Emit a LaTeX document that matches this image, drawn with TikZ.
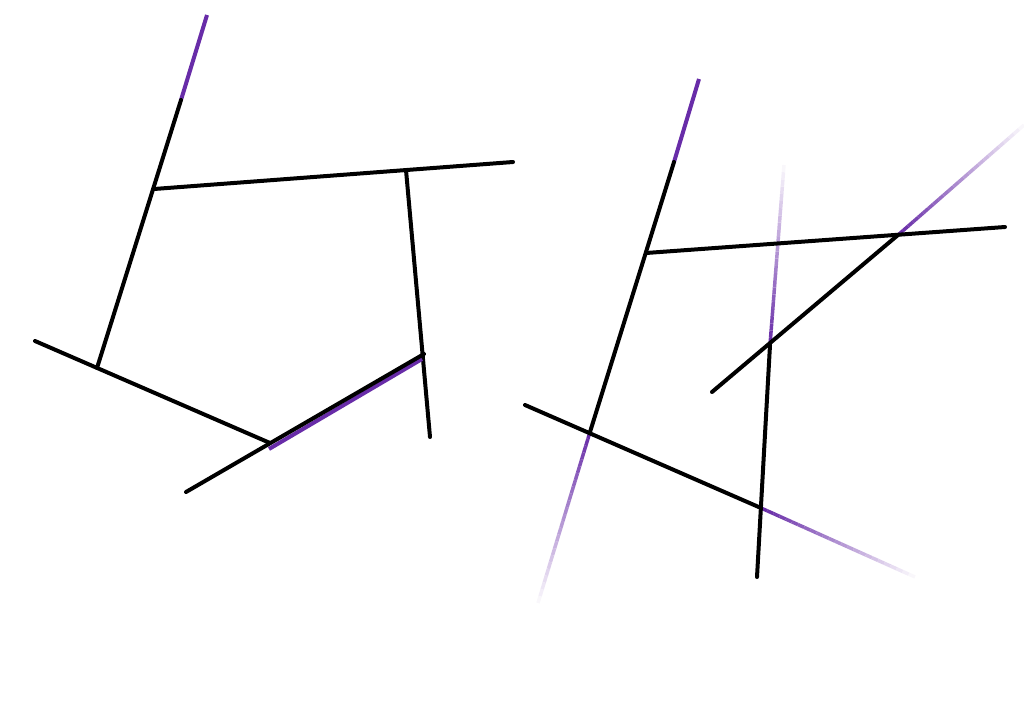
\documentclass[tikz,border=0pt]{standalone}
\usetikzlibrary{calc}
\definecolor{purp}{RGB}{104,44,168}
\tikzset{
  blk/.style={black, line width=4pt, line cap=round},
  pur/.style={purp, line width=4pt, line cap=butt},
}
\newcommand\fadeseg[2]{%
  \foreach \i in {0,...,24}{%
    \pgfmathtruncatemacro\pc{100-\i*4}%
    \pgfmathsetmacro\ta{\i/25}%
    \pgfmathsetmacro\tb{(\i+1)/25}%
    \draw[purp!\pc!white, line width=3.5pt, line cap=butt] ($(#1)!\ta!(#2)$) -- ($(#1)!\tb!(#2)$);
  }%
}
\begin{document}
\begin{tikzpicture}[x=1pt,y=-1pt]
\useasboundingbox (0,0) rectangle (1024,709);
% ---------- left figure ----------
\coordinate (a1) at (207,15);
\coordinate (a2) at (181,100);
\coordinate (a3) at (97,368);
\coordinate (t1) at (154,189);
\coordinate (t2) at (513,162);
\coordinate (v1) at (406,170);
\coordinate (v2) at (430,437);
\coordinate (b1) at (35,341);
\coordinate (b2) at (270,443);
\coordinate (c1) at (186,492);
\coordinate (c2) at (424,354);
\coordinate (p1) at (269,449);
\coordinate (p2) at (422,359);
\draw[pur] (a1) -- (a2);
\draw[blk] (a2) -- (a3);
\draw[blk] (t1) -- (t2);
\draw[blk] (v1) -- (v2);
\draw[blk] (b1) -- (b2);
\draw[pur] (p1) -- (p2);
\draw[blk] (c1) -- (c2);
% ---------- right figure ----------
\coordinate (d1) at (699,79);
\coordinate (d2) at (674,162);
\coordinate (d3) at (590,432);
\coordinate (d4) at (538,603);
\coordinate (e1) at (646,253);
\coordinate (e2) at (1005,227);
\coordinate (f1) at (784,165);
\coordinate (f2) at (770,345);
\coordinate (f3) at (757,577);
\coordinate (g1) at (712,392);
\coordinate (g2) at (898,235);
\coordinate (g3) at (1024,125);
\coordinate (h1) at (525,405);
\coordinate (h2) at (761,508);
\coordinate (h3) at (915,577);
\fadeseg{d3}{d4}
\fadeseg{f2}{f1}
\fadeseg{g2}{g3}
\fadeseg{h2}{h3}
\draw[pur] (d1) -- (d2);
\draw[blk] (d2) -- (d3);
\draw[blk] (e1) -- (e2);
\draw[blk] (f2) -- (f3);
\draw[blk] (g1) -- (g2);
\draw[blk] (h1) -- (h2);
\end{tikzpicture}
\end{document}
